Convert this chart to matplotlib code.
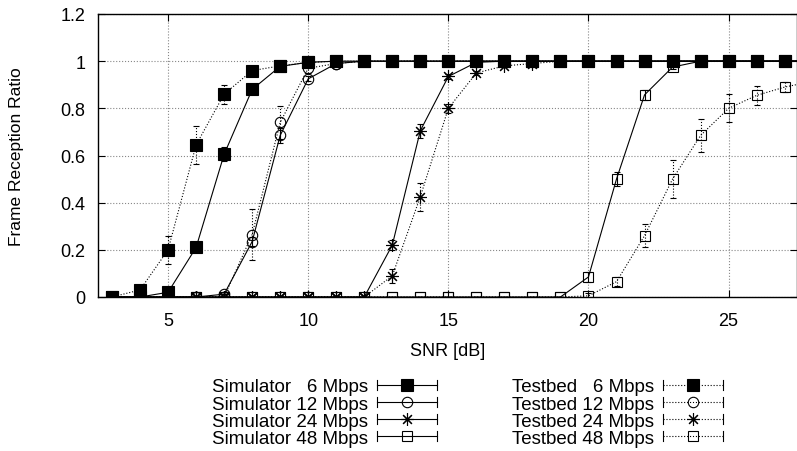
import numpy as np
import matplotlib
matplotlib.use("Agg")
import matplotlib.pyplot as plt
from matplotlib.lines import Line2D
from matplotlib.legend_handler import HandlerBase

plt.rcParams['font.family'] = ['Liberation Sans', 'DejaVu Sans']

# SNR points (dB)
snr = [3, 4, 5, 6, 7, 8, 9, 10, 11, 12, 13, 14, 15, 16, 17, 18, 19, 20,
       21, 22, 23, 24, 25, 26, 27, 28]

# frame reception ratio, simulator
sim6 = [0, 0, 0.02, 0.21, 0.605, 0.88, 0.978, 0.995, 1, 1, 1, 1, 1, 1, 1, 1,
        1, 1, 1, 1, 1, 1, 1, 1, 1, 1]
sim12 = [0, 0, 0, 0, 0.012, 0.235, 0.685, 0.925, 0.99, 1, 1, 1, 1, 1, 1, 1,
         1, 1, 1, 1, 1, 1, 1, 1, 1, 1]
sim24 = [0, 0, 0, 0, 0, 0, 0, 0, 0, 0, 0.22, 0.705, 0.935, 0.995, 1, 1,
         1, 1, 1, 1, 1, 1, 1, 1, 1, 1]
sim48 = [0, 0, 0, 0, 0, 0, 0, 0, 0, 0, 0, 0, 0, 0, 0, 0,
         0, 0.085, 0.5, 0.857, 0.975, 1, 1, 1, 1, 1]

# frame reception ratio, testbed
tb6 = [0, 0.03, 0.2, 0.645, 0.86, 0.96, 0.98, 0.995, 1, 1, 1, 1, 1, 1, 1, 1,
       1, 1, 1, 1, 1, 1, 1, 1, 1, 1]
tb12 = [0, 0, 0, 0, 0, 0.265, 0.74, 0.97, 0.99, 1, 1, 1, 1, 1, 1, 1,
        1, 1, 1, 1, 1, 1, 1, 1, 1, 1]
tb24 = [0, 0, 0, 0, 0, 0, 0, 0, 0, 0, 0.09, 0.425, 0.8, 0.95, 0.98, 0.99,
        1, 1, 1, 1, 1, 1, 1, 1, 1, 1]
tb48 = [0, 0, 0, 0, 0, 0, 0, 0, 0, 0, 0, 0, 0, 0, 0, 0,
        0, 0.005, 0.065, 0.26, 0.5, 0.685, 0.8, 0.855, 0.89, 0.915]

# error bars (half width)
sim6_err = [0, 0, 0.01, 0.01, 0.03, 0.01, 0, 0, 0, 0, 0, 0, 0, 0, 0, 0,
            0, 0, 0, 0, 0, 0, 0, 0, 0, 0]
sim12_err = [0, 0, 0, 0, 0, 0.02, 0.03, 0.01, 0, 0, 0, 0, 0, 0, 0, 0,
             0, 0, 0, 0, 0, 0, 0, 0, 0, 0]
sim24_err = [0, 0, 0, 0, 0, 0, 0, 0, 0, 0, 0.02, 0.03, 0.01, 0, 0, 0,
             0, 0, 0, 0, 0, 0, 0, 0, 0, 0]
sim48_err = [0, 0, 0, 0, 0, 0, 0, 0, 0, 0, 0, 0, 0, 0, 0, 0,
             0, 0.02, 0.03, 0.02, 0.01, 0, 0, 0, 0, 0]
tb6_err = [0, 0.01, 0.06, 0.08, 0.04, 0.01, 0, 0, 0, 0, 0, 0, 0, 0, 0, 0,
           0, 0, 0, 0, 0, 0, 0, 0, 0, 0]
tb12_err = [0, 0, 0, 0, 0, 0.11, 0.07, 0.02, 0, 0, 0, 0, 0, 0, 0, 0,
            0, 0, 0, 0, 0, 0, 0, 0, 0, 0]
tb24_err = [0, 0, 0, 0, 0, 0, 0, 0, 0, 0, 0.03, 0.06, 0.02, 0.01, 0, 0,
            0, 0, 0, 0, 0, 0, 0, 0, 0, 0]
tb48_err = [0, 0, 0, 0, 0, 0, 0, 0, 0, 0, 0, 0, 0, 0, 0, 0,
            0, 0.01, 0.02, 0.05, 0.08, 0.07, 0.06, 0.04, 0.02, 0.02]

sim_labels = ['Simulator   6 Mbps', 'Simulator 12 Mbps',
              'Simulator 24 Mbps', 'Simulator 48 Mbps']
tb_labels = ['Testbed   6 Mbps', 'Testbed 12 Mbps',
             'Testbed 24 Mbps', 'Testbed 48 Mbps']

asterisk = (8, 2, 0)
styles = [dict(marker='s', ms=8.5, mfc='black'),
          dict(marker='o', ms=7.5, mfc='none'),
          dict(marker=asterisk, ms=9, mfc='none'),
          dict(marker='s', ms=7, mfc='none')]


class GnuKeyHandler(HandlerBase):
    # gnuplot style key sample: line with end ticks and point in middle
    def __init__(self, ls, st):
        super().__init__()
        self.ls = ls
        self.st = st

    def create_artists(self, legend, orig_handle, xdescent, ydescent,
                       width, height, fontsize, trans):
        y = height / 2 - ydescent
        x0, x1 = -xdescent, width - xdescent
        line = Line2D([x0, x1], [y, y], color='black', lw=0.8, ls=self.ls)
        h = 3.5
        c0 = Line2D([x0, x0], [y - h, y + h], color='black', lw=0.8)
        c1 = Line2D([x1, x1], [y - h, y + h], color='black', lw=0.8)
        mk = Line2D([(x0 + x1) / 2], [y], ls='none', color='black',
                    mec='black', mew=0.8, **self.st)
        for a in (line, c0, c1, mk):
            a.set_transform(trans)
        return [line, c0, c1, mk]


fig = plt.figure(figsize=(7.97, 4.52), dpi=100)
ax = fig.add_axes([98 / 797, 1 - 298 / 452, 1 - 98 / 797, (298 - 15) / 452])

sim_all = [sim6, sim12, sim24, sim48]
sim_errs = [sim6_err, sim12_err, sim24_err, sim48_err]
tb_all = [tb6, tb12, tb24, tb48]
tb_errs = [tb6_err, tb12_err, tb24_err, tb48_err]

sim_handles, tb_handles = [], []
for vals, err, st in zip(sim_all, sim_errs, styles):
    c = ax.errorbar(snr, vals, yerr=err, color='black', lw=0.8, ls='-',
                    capsize=2.5, elinewidth=0.8, mec='black', mew=0.8, **st)
    sim_handles.append(c)
for vals, err, st in zip(tb_all, tb_errs, styles):
    c = ax.errorbar(snr, vals, yerr=err, color='black', lw=0.8, ls=':',
                    capsize=2.5, elinewidth=0.8, mec='black', mew=0.8, **st)
    c[2][0].set_linestyle(':')
    tb_handles.append(c)

ax.set_xlim(2.5, 27.44)
ax.set_ylim(0, 1.2)
ax.set_xticks([5, 10, 15, 20, 25])
ax.set_yticks([0, 0.2, 0.4, 0.6, 0.8, 1.0, 1.2])
ax.set_yticklabels(['0', '0.2', '0.4', '0.6', '0.8', '1', '1.2'])
ax.tick_params(direction='in', top=True, right=True, length=5, width=0.8,
               labelsize=13)
ax.tick_params(axis='x', pad=11)
ax.tick_params(axis='y', pad=9)
ax.grid(True, color='#888888', ls=':', lw=0.8)
for s in ax.spines.values():
    s.set_linewidth(1.0)
ax.set_xlabel('SNR [dB]', fontsize=13, labelpad=9)
ax.set_ylabel('Frame Reception Ratio', fontsize=12.5, labelpad=26)

leg_kw = dict(loc='upper left', frameon=False, borderpad=0, fontsize=13.5,
              markerfirst=False, handlelength=3.2, handletextpad=0.45,
              labelspacing=0.0)
leg1 = fig.legend(sim_handles, sim_labels,
                  bbox_to_anchor=(203 / 797, 1 - 370 / 452),
                  handler_map={h: GnuKeyHandler('-', st)
                               for h, st in zip(sim_handles, styles)},
                  **leg_kw)
leg2 = fig.legend(tb_handles, tb_labels,
                  bbox_to_anchor=(503 / 797, 1 - 370 / 452),
                  handler_map={h: GnuKeyHandler(':', st)
                               for h, st in zip(tb_handles, styles)},
                  **leg_kw)

fig.savefig('out.png', dpi=100)
